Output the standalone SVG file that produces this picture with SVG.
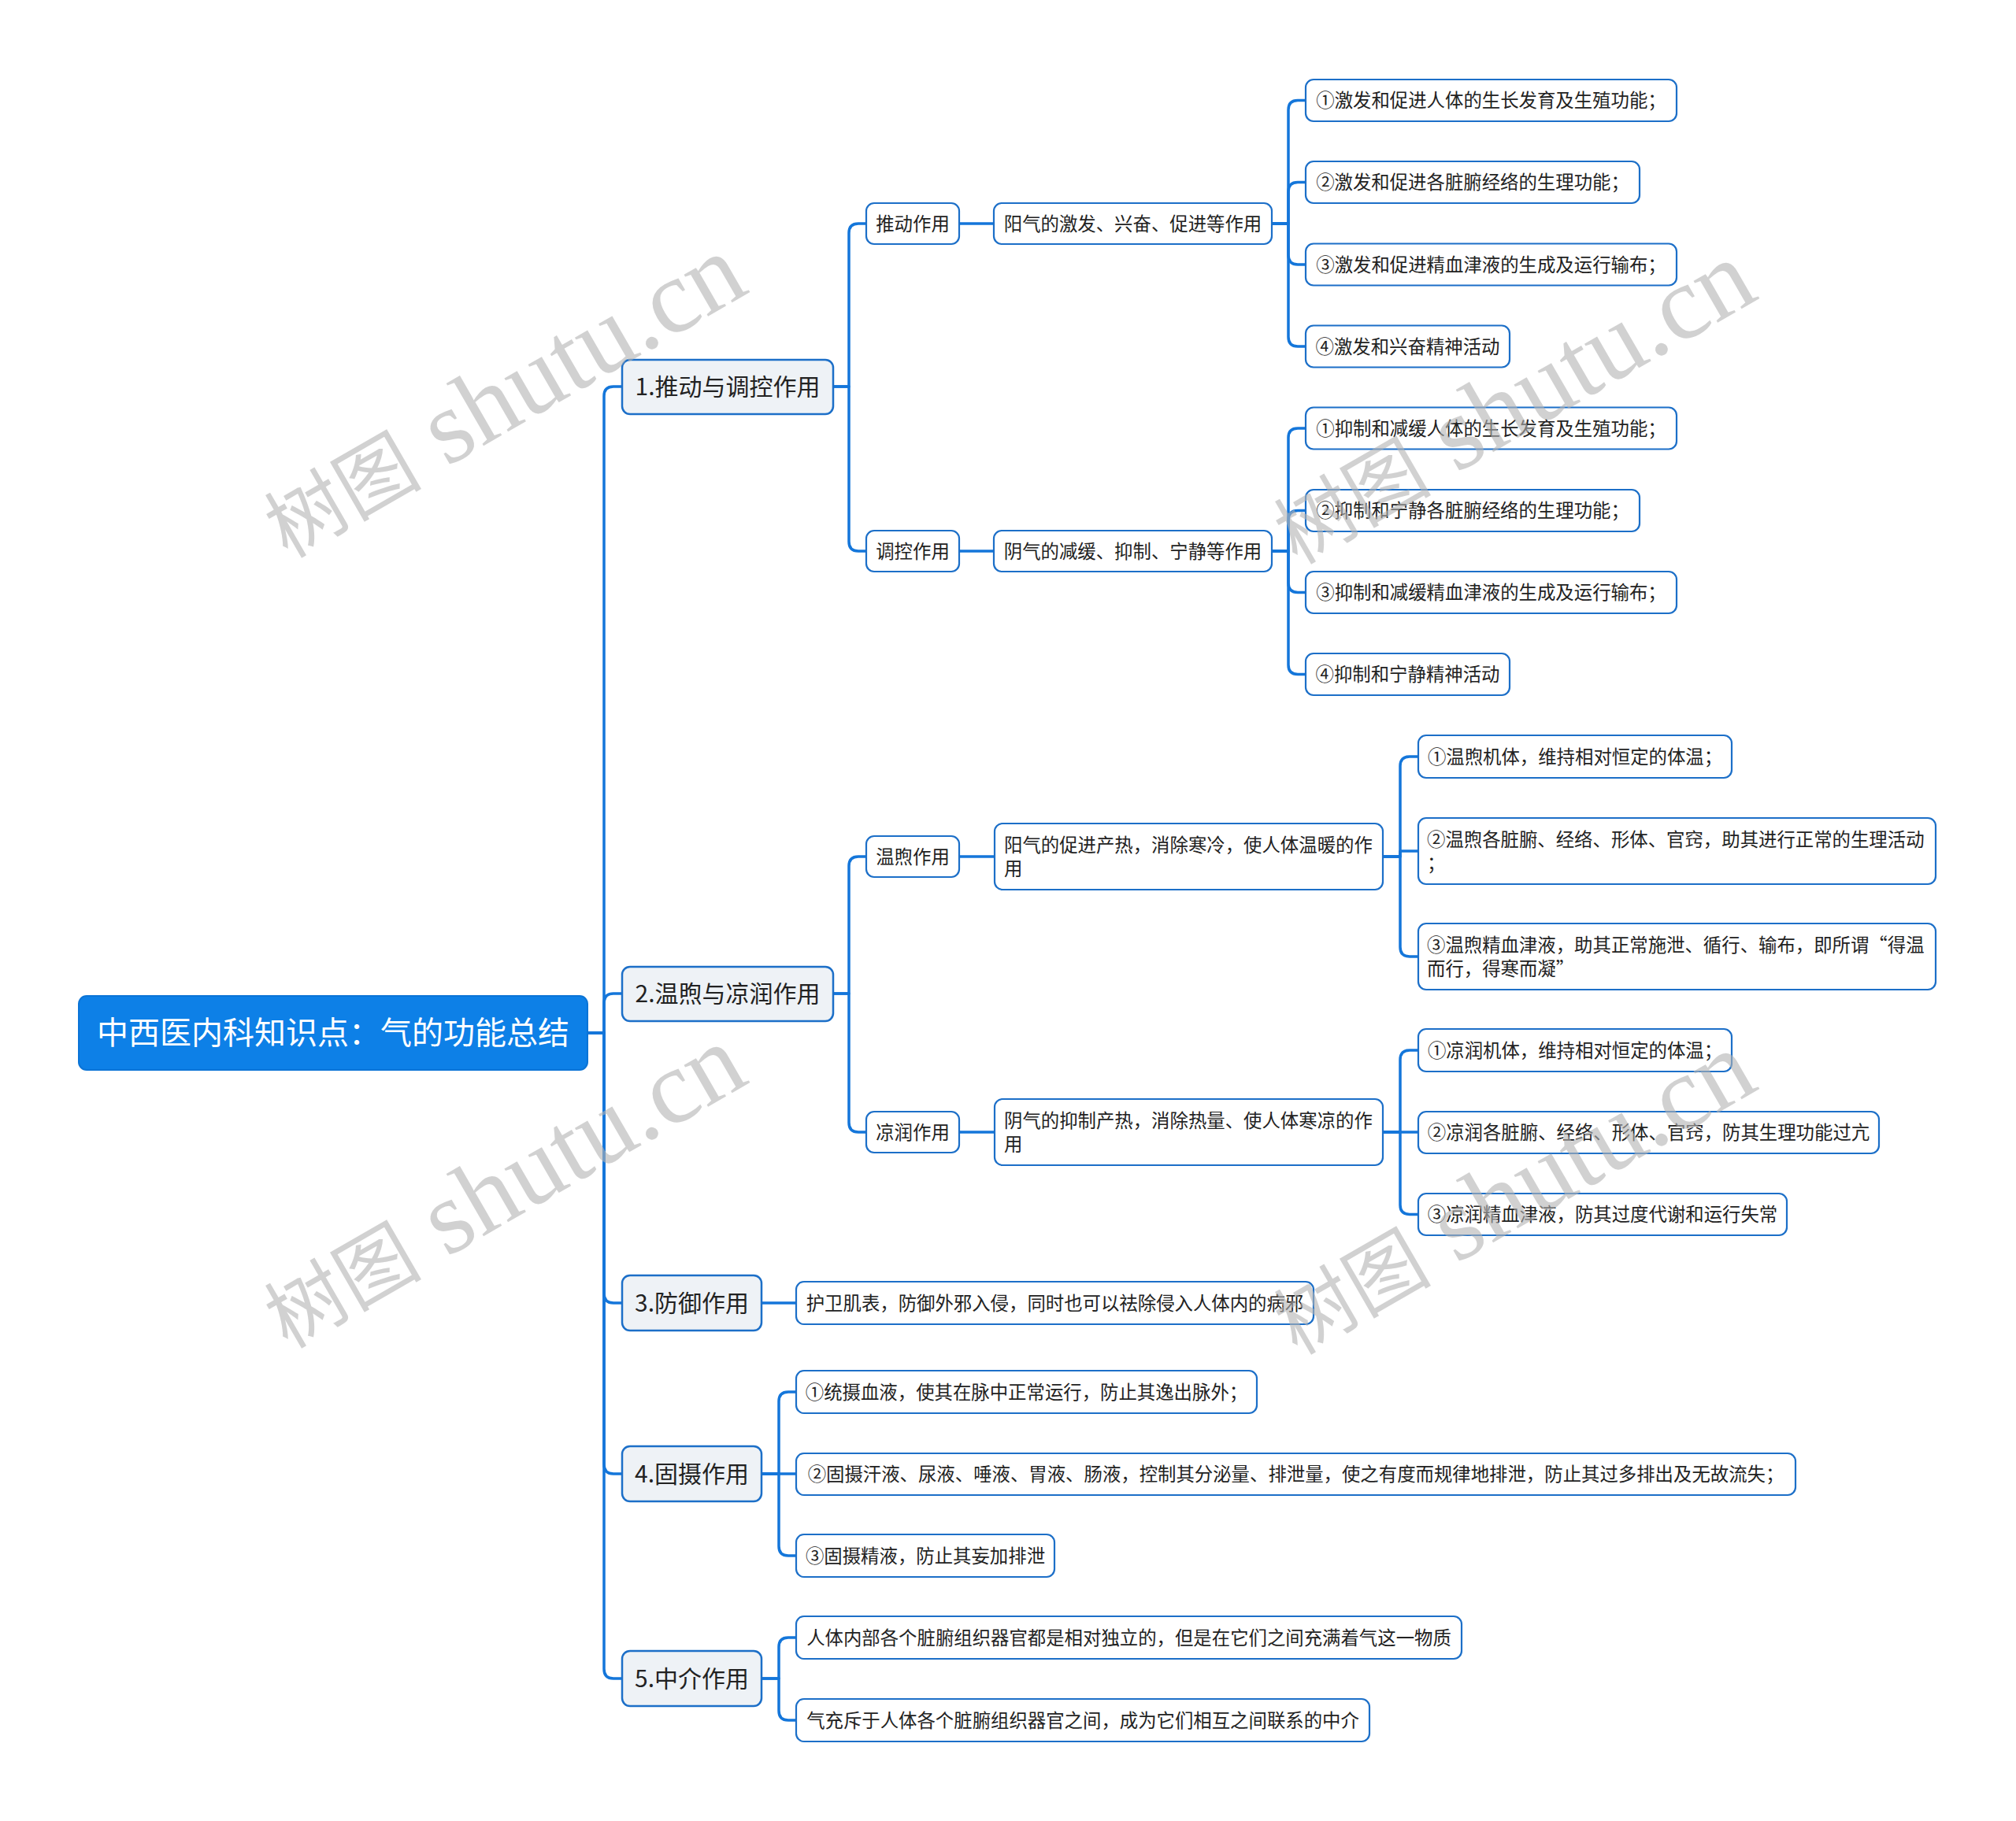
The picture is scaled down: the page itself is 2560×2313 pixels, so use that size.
<svg xmlns="http://www.w3.org/2000/svg" width="2560" height="2313" viewBox="0 0 2560 2313">
<style>
text{font-family:"Noto Sans CJK SC","Microsoft YaHei","Noto Sans",sans-serif;fill:#222}
.conn path{fill:none;stroke:#1476da;stroke-width:3.5;stroke-linecap:round;stroke-linejoin:round}
.root rect{fill:#0d80e7;stroke:#0b74d6;stroke-width:2}
.root text{fill:#fff;font-size:40px}
.l1 rect{fill:#eef2f6;stroke:#1c6fc8;stroke-width:2.5}
.l1 text{font-size:30px}
.l2 rect{fill:#fff;stroke:#1c6fc8;stroke-width:2.2}
.l2 text{font-size:23.4px}
.c{text-anchor:middle}
.wm text{fill:#b4b4b4;opacity:0.6}
.wm .cj{font-family:"Noto Sans CJK SC",serif;font-size:100px}
.wm .la{font-family:"Liberation Serif",serif;font-size:133px}
</style>
<rect width="2560" height="2313" fill="#fff"/>
<g id="connectors" class="conn">
<path d="M746,1312 H767 V503 Q767,491 779,491 H790"/>
<path d="M746,1312 H767 V1274 Q767,1262 779,1262 H790"/>
<path d="M746,1312 H767 V1643 Q767,1655 779,1655 H790"/>
<path d="M746,1312 H767 V1860 Q767,1872 779,1872 H790"/>
<path d="M746,1312 H767 V2120 Q767,2132 779,2132 H790"/>
<path d="M1058,491 H1078 V296 Q1078,284 1090,284 H1100"/>
<path d="M1058,491 H1078 V688 Q1078,700 1090,700 H1100"/>
<path d="M1218,284 H1262"/>
<path d="M1218,700 H1262"/>
<path d="M1615,284 H1636 V139.5 Q1636,127.5 1648,127.5 H1658"/>
<path d="M1615,284 H1636 V243.5 Q1636,231.5 1648,231.5 H1658"/>
<path d="M1615,284 H1636 V324 Q1636,336 1648,336 H1658"/>
<path d="M1615,284 H1636 V428 Q1636,440 1648,440 H1658"/>
<path d="M1615,700 H1636 V556 Q1636,544 1648,544 H1658"/>
<path d="M1615,700 H1636 V660.5 Q1636,648.5 1648,648.5 H1658"/>
<path d="M1615,700 H1636 V740.5 Q1636,752.5 1648,752.5 H1658"/>
<path d="M1615,700 H1636 V844.5 Q1636,856.5 1648,856.5 H1658"/>
<path d="M1058,1262 H1078 V1100 Q1078,1088 1090,1088 H1100"/>
<path d="M1058,1262 H1078 V1426 Q1078,1438 1090,1438 H1100"/>
<path d="M1218,1088 H1263"/>
<path d="M1218,1438 H1263"/>
<path d="M1756,1088 H1778 V973 Q1778,961 1790,961 H1801"/>
<path d="M1756,1088 H1778 V1081 H1801"/>
<path d="M1756,1088 H1778 V1203 Q1778,1215 1790,1215 H1801"/>
<path d="M1756,1438 H1778 V1346 Q1778,1334 1790,1334 H1801"/>
<path d="M1756,1438 H1801"/>
<path d="M1756,1438 H1778 V1530.5 Q1778,1542.5 1790,1542.5 H1801"/>
<path d="M967,1655 H1011"/>
<path d="M967,1872 H989 V1780 Q989,1768 1001,1768 H1011"/>
<path d="M967,1872 H1011"/>
<path d="M967,1872 H989 V1964 Q989,1976 1001,1976 H1011"/>
<path d="M967,2132 H989 V2092 Q989,2080 1001,2080 H1011"/>
<path d="M967,2132 H989 V2173 Q989,2185 1001,2185 H1011"/>
</g>
<g id="root" class="root"><rect x="100" y="1265" width="646" height="94" rx="10"/><text class="c" x="423" y="1326">中西医内科知识点：气的功能总结</text></g>
<g id="n1" class="l1"><rect x="790" y="457" width="268" height="69" rx="10"/><text class="c" x="924" y="502">1.推动与调控作用</text></g>
<g id="n2" class="l1"><rect x="790" y="1228" width="268" height="69" rx="10"/><text class="c" x="924" y="1273">2.温煦与凉润作用</text></g>
<g id="n3" class="l1"><rect x="790" y="1620" width="177" height="70" rx="10"/><text class="c" x="878.5" y="1666">3.防御作用</text></g>
<g id="n4" class="l1"><rect x="790" y="1837" width="177" height="70" rx="10"/><text class="c" x="878.5" y="1883">4.固摄作用</text></g>
<g id="n5" class="l1"><rect x="790" y="2097" width="177" height="70" rx="10"/><text class="c" x="878.5" y="2143">5.中介作用</text></g>
<g id="n1a" class="l2"><rect x="1100" y="258" width="118" height="52" rx="10"/><text class="c" x="1159" y="292.5">推动作用</text></g>
<g id="n1a1" class="l2"><rect x="1262" y="258" width="353" height="52" rx="10"/><text class="c" x="1438.5" y="292.5">阳气的激发、兴奋、促进等作用</text></g>
<g id="n1a1a" class="l2"><rect x="1658" y="101" width="471" height="53" rx="10"/><text class="c" x="1893.5" y="136">①激发和促进人体的生长发育及生殖功能；</text></g>
<g id="n1a1b" class="l2"><rect x="1658" y="205" width="424" height="53" rx="10"/><text class="c" x="1870" y="240">②激发和促进各脏腑经络的生理功能；</text></g>
<g id="n1a1c" class="l2"><rect x="1658" y="309.5" width="471" height="53" rx="10"/><text class="c" x="1893.5" y="344.5">③激发和促进精血津液的生成及运行输布；</text></g>
<g id="n1a1d" class="l2"><rect x="1658" y="413.5" width="259" height="53" rx="10"/><text class="c" x="1787.5" y="448.5">④激发和兴奋精神活动</text></g>
<g id="n1b" class="l2"><rect x="1100" y="674" width="118" height="52" rx="10"/><text class="c" x="1159" y="708.5">调控作用</text></g>
<g id="n1b1" class="l2"><rect x="1262" y="674" width="353" height="52" rx="10"/><text class="c" x="1438.5" y="708.5">阴气的减缓、抑制、宁静等作用</text></g>
<g id="n1b1a" class="l2"><rect x="1658" y="517.5" width="471" height="53" rx="10"/><text class="c" x="1893.5" y="552.5">①抑制和减缓人体的生长发育及生殖功能；</text></g>
<g id="n1b1b" class="l2"><rect x="1658" y="622" width="424" height="53" rx="10"/><text class="c" x="1870" y="657">②抑制和宁静各脏腑经络的生理功能；</text></g>
<g id="n1b1c" class="l2"><rect x="1658" y="726" width="471" height="53" rx="10"/><text class="c" x="1893.5" y="761">③抑制和减缓精血津液的生成及运行输布；</text></g>
<g id="n1b1d" class="l2"><rect x="1658" y="830" width="259" height="53" rx="10"/><text class="c" x="1787.5" y="865">④抑制和宁静精神活动</text></g>
<g id="n2a" class="l2"><rect x="1100" y="1062" width="118" height="52" rx="10"/><text class="c" x="1159" y="1096.5">温煦作用</text></g>
<g id="n2a1" class="l2"><rect x="1263" y="1046" width="493" height="84" rx="10"/><text x="1275" y="1082">阳气的促进产热，消除寒冷，使人体温暖的作</text><text x="1275" y="1112">用</text></g>
<g id="n2a1a" class="l2"><rect x="1801" y="934" width="398" height="54" rx="10"/><text class="c" x="2000" y="969.5">①温煦机体，维持相对恒定的体温；</text></g>
<g id="n2a1b" class="l2"><rect x="1801" y="1039" width="657" height="84" rx="10"/><text x="1812" y="1075">②温煦各脏腑、经络、形体、官窍，助其进行正常的生理活动</text><text x="1812" y="1105">；</text></g>
<g id="n2a1c" class="l2"><rect x="1801" y="1173" width="657" height="84" rx="10"/><text x="1812" y="1209">③温煦精血津液，助其正常施泄、循行、输布，即所谓“得温</text><text x="1812" y="1239">而行，得寒而凝”</text></g>
<g id="n2b" class="l2"><rect x="1100" y="1412" width="118" height="52" rx="10"/><text class="c" x="1159" y="1446.5">凉润作用</text></g>
<g id="n2b1" class="l2"><rect x="1263" y="1396" width="493" height="84" rx="10"/><text x="1275" y="1432">阴气的抑制产热，消除热量、使人体寒凉的作</text><text x="1275" y="1462">用</text></g>
<g id="n2b1a" class="l2"><rect x="1801" y="1307" width="398" height="54" rx="10"/><text class="c" x="2000" y="1342.5">①凉润机体，维持相对恒定的体温；</text></g>
<g id="n2b1b" class="l2"><rect x="1801" y="1412" width="585" height="53" rx="10"/><text class="c" x="2093.5" y="1447">②凉润各脏腑、经络、形体、官窍，防其生理功能过亢</text></g>
<g id="n2b1c" class="l2"><rect x="1801" y="1516" width="468" height="53" rx="10"/><text class="c" x="2035" y="1551">③凉润精血津液，防其过度代谢和运行失常</text></g>
<g id="n3a" class="l2"><rect x="1011" y="1628" width="657" height="54" rx="10"/><text class="c" x="1339.5" y="1663.5">护卫肌表，防御外邪入侵，同时也可以祛除侵入人体内的病邪</text></g>
<g id="n4a" class="l2"><rect x="1011" y="1741" width="585" height="54" rx="10"/><text class="c" x="1303.5" y="1776.5">①统摄血液，使其在脉中正常运行，防止其逸出脉外；</text></g>
<g id="n4b" class="l2"><rect x="1011" y="1846" width="1269" height="53" rx="10"/><text class="c" x="1645.5" y="1881">②固摄汗液、尿液、唾液、胃液、肠液，控制其分泌量、排泄量，使之有度而规律地排泄，防止其过多排出及无故流失；</text></g>
<g id="n4c" class="l2"><rect x="1011" y="1949" width="328" height="54" rx="10"/><text class="c" x="1175" y="1984.5">③固摄精液，防止其妄加排泄</text></g>
<g id="n5a" class="l2"><rect x="1011" y="2053" width="845" height="54" rx="10"/><text class="c" x="1433.5" y="2088.5">人体内部各个脏腑组织器官都是相对独立的，但是在它们之间充满着气这一物质</text></g>
<g id="n5b" class="l2"><rect x="1011" y="2158" width="728" height="54" rx="10"/><text class="c" x="1375" y="2193.5">气充斥于人体各个脏腑组织器官之间，成为它们相互之间联系的中介</text></g>
<g class="wm">
<text transform="translate(365,710) rotate(-30)"><tspan class="cj">树图</tspan><tspan class="la"> shutu.cn</tspan></text>
<text transform="translate(1647,718) rotate(-30)"><tspan class="cj">树图</tspan><tspan class="la"> shutu.cn</tspan></text>
<text transform="translate(365,1714) rotate(-30)"><tspan class="cj">树图</tspan><tspan class="la"> shutu.cn</tspan></text>
<text transform="translate(1647,1722) rotate(-30)"><tspan class="cj">树图</tspan><tspan class="la"> shutu.cn</tspan></text>
</g>
</svg>
